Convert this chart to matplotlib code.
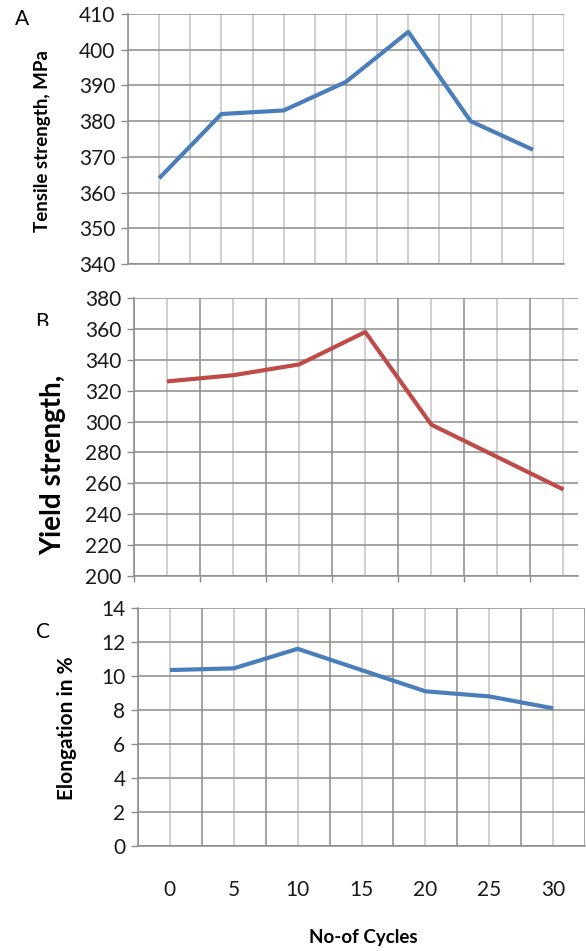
import matplotlib
matplotlib.use('Agg')
import matplotlib.pyplot as plt
import numpy as np

plt.rcParams['font.family'] = ['Lato', 'DejaVu Sans']

# data
cycles = [0, 5, 10, 15, 20, 25, 30]
tensile = [364, 382, 383, 391, 405, 380, 372]
yield_str = [326, 330, 337, 358, 298, 277, 256]
elongation = [10.35, 10.45, 11.6, 10.35, 9.1, 8.8, 8.1]

blue = '#4a7ebb'
red = '#be4b48'
dark = '#8c8c8c'
light = '#c4c4c4'

fig = plt.figure(figsize=(5.86, 9.51), dpi=100)

axA = fig.add_axes([128/586, 1 - 264/951, 436/586, 250/951])
axB = fig.add_axes([134/586, 1 - 576/951, 444/586, 278/951])
axC = fig.add_axes([138/586, 1 - 846/951, 447/586, 238/951])


def style(ax, ylim, ystep, xmax, major_dark, bottom_ticks):
    ax.set_xlim(-2.5, xmax)
    ax.set_ylim(*ylim)
    ax.set_yticks(np.arange(ylim[0], ylim[1] + ystep / 2, ystep))
    grid_x = np.arange(-2.5, xmax + 0.01, 2.5)
    for i, gx in enumerate(grid_x):
        c = dark if (major_dark and i % 2 == 0) else light
        ax.axvline(gx, color=c, lw=1.1, zorder=1)
    for gy in ax.get_yticks():
        ax.axhline(gy, color=dark, lw=1.1, zorder=1)
    for s in ax.spines.values():
        s.set_visible(False)
    for side in ('left', 'bottom'):
        ax.spines[side].set_visible(True)
        ax.spines[side].set_color(dark)
        ax.spines[side].set_linewidth(1.1)
    ax.tick_params(axis='y', direction='out', length=5, width=1, color=dark,
                   labelsize=15, labelcolor='#1a1a1a', pad=4)
    if bottom_ticks:
        ax.set_xticks(np.arange(-2.5, xmax, 5))
        ax.tick_params(axis='x', direction='out', length=4, width=1, color=dark,
                       labelbottom=False)
    else:
        ax.set_xticks([])


style(axA, (340, 410), 10, 32.5, False, False)
style(axB, (200, 380), 20, 31.1, True, True)
style(axC, (0, 14), 2, 32.5, True, False)

axA.plot(cycles, tensile, color=blue, lw=3, solid_capstyle='butt', zorder=3)
axB.plot(cycles, yield_str, color=red, lw=3, solid_capstyle='butt', zorder=3)
axC.plot(cycles, elongation, color=blue, lw=3, solid_capstyle='butt', zorder=3)

# x tick labels only on the bottom panel
for cx in cycles:
    axC.text(cx, -2.6, str(cx), ha='center', va='center', fontsize=15,
             color='#1a1a1a')

fig.text(43/586, 1 - 141/951, 'Tensile strength, MPa', rotation=90,
         ha='center', va='center', fontsize=13.5, fontweight='bold')
fig.text(53/586, 1 - 465/951, 'Yield strength,', rotation=90,
         ha='center', va='center', fontsize=20, fontweight='bold')
fig.text(67/586, 1 - 728/951, 'Elongation in %', rotation=90,
         ha='center', va='center', fontsize=15, fontweight='bold')
fig.text(363/586, 1 - 938/951, 'No-of Cycles', ha='center', va='center',
         fontsize=13.5, fontweight='bold')

fig.text(22/586, 1 - 19/951, 'A', ha='center', va='center', fontsize=15)
fig.text(42/586, 1 - 322/951, 'B', ha='center', va='center', fontsize=15)
fig.text(43/586, 1 - 632/951, 'C', ha='center', va='center', fontsize=15)
# the B letter is cut off in the original
fig.patches.append(plt.Rectangle((30/586, 1 - 335/951), 25/586, 9/951,
                                 transform=fig.transFigure, color='white',
                                 zorder=5))

fig.savefig('out.png', dpi=100)
